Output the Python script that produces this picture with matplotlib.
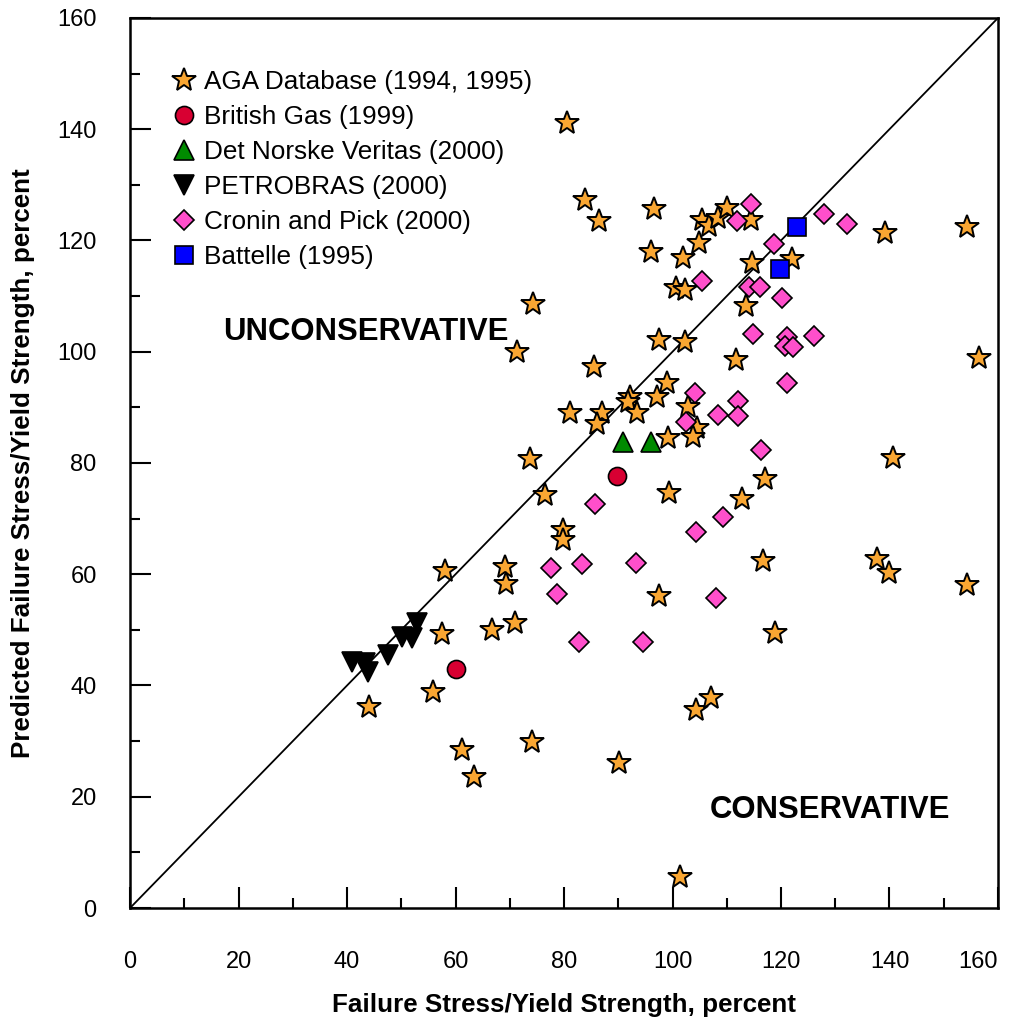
import matplotlib
matplotlib.use("Agg")
import matplotlib.pyplot as plt

plt.rcParams['font.family'] = ['Liberation Sans', 'DejaVu Sans']

# AGA Database (1994, 1995)
aga_x = [80.6, 83.9, 86.5, 96.6, 96.0, 101.9, 100.6, 102.3, 104.9, 105.4, 106.7, 108.4,
         110.0, 114.5, 114.7, 122.0, 139.2, 154.3, 156.5, 97.5, 102.3, 85.5, 111.7, 99.0,
         113.5, 92.2, 97.1, 74.3, 71.3, 81.1, 87.0, 86.1, 91.8, 93.5, 102.9, 104.5, 103.8,
         99.2, 76.5, 73.7, 79.8, 79.8, 99.4, 112.8, 117.1, 140.6, 116.7, 137.7, 139.9, 154.3,
         97.5, 118.9, 69.1, 69.3, 71.0, 66.7, 58.1, 57.5, 55.9, 44.1, 61.2, 63.4, 74.1, 90.1,
         101.4, 104.3, 107.1]
aga_y = [141.1, 127.3, 123.5, 125.7, 117.9, 116.9, 111.5, 111.1, 119.6, 123.7, 122.6, 124.0,
         125.8, 123.7, 116.0, 116.7, 121.3, 122.4, 98.9, 102.1, 101.8, 97.3, 98.5, 94.4,
         108.2, 91.9, 91.9, 108.6, 100.0, 89.0, 89.0, 87.0, 91.0, 89.0, 90.1, 86.3, 84.7,
         84.5, 74.2, 80.7, 68.0, 66.2, 74.6, 73.5, 77.1, 80.9, 62.4, 62.7, 60.2, 58.1,
         56.1, 49.4, 61.3, 58.2, 51.2, 50.0, 60.6, 49.3, 38.8, 36.1, 28.4, 23.6, 29.8, 26.1,
         5.6, 35.6, 37.8]

# British Gas (1999)
bg_x = [60.1, 89.8]
bg_y = [43.0, 77.7]

# Det Norske Veritas (2000)
dnv_x = [90.9, 96.0]
dnv_y = [83.8, 83.8]

# PETROBRAS (2000)
pb_x = [40.9, 43.3, 43.9, 47.6, 50.1, 52.0, 52.9]
pb_y = [44.2, 44.0, 42.4, 45.5, 48.7, 48.5, 51.2]

# Cronin and Pick (2000)
cp_x = [114.5, 111.9, 127.9, 132.2, 118.7, 105.4, 114.1, 116.1, 120.2, 114.8, 121.1, 120.7,
        122.2, 126.1, 121.1, 104.1, 112.1, 108.4, 112.1, 102.5, 116.3, 85.7, 109.3, 104.3,
        77.6, 83.3, 93.3, 78.7, 108.0, 82.8, 94.6]
cp_y = [126.6, 123.5, 124.8, 123.0, 119.4, 112.7, 111.6, 111.6, 109.7, 103.2, 102.7, 101.0,
        100.9, 102.8, 94.4, 92.6, 91.1, 88.6, 88.4, 87.4, 82.3, 72.6, 70.3, 67.6,
        61.1, 61.8, 62.0, 56.5, 55.7, 47.8, 47.8]

# Battelle (1995)
bat_x = [122.9, 119.8]
bat_y = [122.4, 114.9]

fig = plt.figure(figsize=(10.24, 10.26), dpi=100)
ax = fig.add_axes([0.127, 0.115, 0.8476, 0.8675])

ax.plot([0, 160], [0, 160], color='black', lw=1.3, zorder=1)

ax.plot(aga_x, aga_y, ls='none', marker='*', ms=18, mfc='#F9A632', mec='black', mew=1.4,
        label='AGA Database (1994, 1995)', zorder=3)
ax.plot(bg_x, bg_y, ls='none', marker='o', ms=13, mfc='#D80032', mec='black', mew=1.2,
        label='British Gas (1999)', zorder=3)
ax.plot(dnv_x, dnv_y, ls='none', marker='^', ms=14, mfc='#008A00', mec='black', mew=1.2,
        label='Det Norske Veritas (2000)', zorder=3)
ax.plot(pb_x, pb_y, ls='none', marker='v', ms=15, mfc='black', mec='black', mew=1.2,
        label='PETROBRAS (2000)', zorder=3)
ax.plot(cp_x, cp_y, ls='none', marker='D', ms=10, mfc='#FF4FCB', mec='black', mew=1.2,
        label='Cronin and Pick (2000)', zorder=3)
ax.plot(bat_x, bat_y, ls='none', marker='s', ms=13, mfc='#0000FF', mec='black', mew=1.2,
        label='Battelle (1995)', zorder=4)

ax.set_xlim(0, 160)
ax.set_ylim(0, 160)
ax.set_xticks(range(0, 161, 20))
ax.set_yticks(range(0, 161, 20))
ax.set_xticks(range(10, 160, 20), minor=True)
ax.set_yticks(range(10, 160, 20), minor=True)
ax.tick_params(which='both', direction='in', top=False, right=False, width=1.5,
               labelsize=17, colors='black')
ax.tick_params(axis='x', which='both', pad=31)
ax.tick_params(axis='y', which='both', pad=24)
ax.tick_params(which='major', length=15)
ax.tick_params(which='minor', length=7.5)
for s in ax.spines.values():
    s.set_linewidth(1.8)
# last x label sits inside the right edge, as in the original
ax.get_xticklabels()[-1].set_horizontalalignment('right')

ax.set_xlabel('Failure Stress/Yield Strength, percent', fontsize=18.7, fontweight='bold')
ax.set_ylabel('Predicted Failure Stress/Yield Strength, percent', fontsize=18.7, fontweight='bold')
ax.xaxis.set_label_coords(0.5, -0.095)
ax.yaxis.set_label_coords(-0.11, 0.5)

ax.text(43.5, 103.6, 'UNCONSERVATIVE', fontsize=22.4, fontweight='bold', ha='center', va='center')
ax.text(129.0, 17.6, 'CONSERVATIVE', fontsize=22.4, fontweight='bold', ha='center', va='center')

ax.legend(loc='upper left', bbox_to_anchor=(0.03, 0.956), frameon=False, fontsize=18.8,
          handletextpad=0.25, labelspacing=0.42, borderpad=0, handlelength=1.1, numpoints=1)

fig.savefig('out.png', dpi=100)
